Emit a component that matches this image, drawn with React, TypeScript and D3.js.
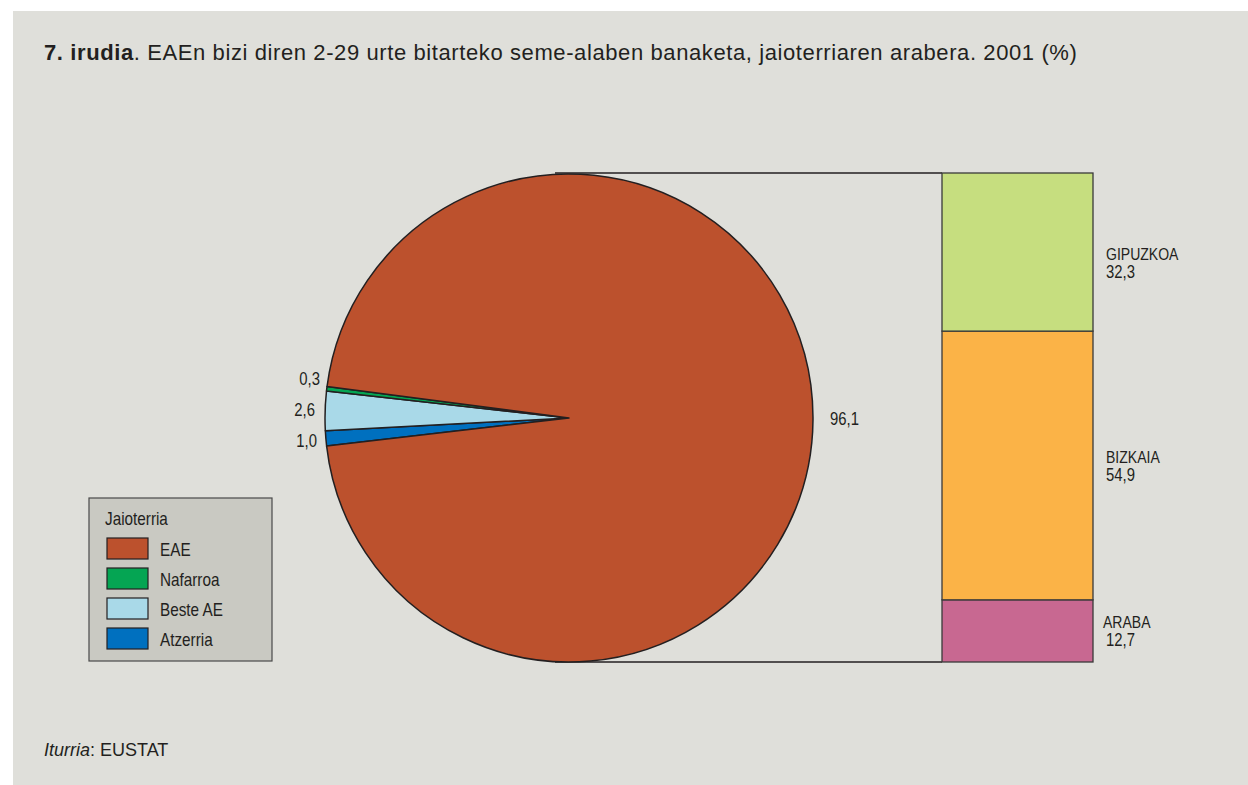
import React from "react";
import * as d3 from "d3";

const pieCategories = ["Atzerria", "Beste AE", "Nafarroa", "EAE"];
const pieValues = [1.0, 2.6, 0.3, 96.1];
const pieLabels = ["1,0", "2,6", "0,3", "96,1"];
const pieColors = ["#0070bf", "#a9d9e8", "#05a553", "#bc512d"];

const legendCategories = ["EAE", "Nafarroa", "Beste AE", "Atzerria"];
const legendColors = ["#bc512d", "#05a553", "#a9d9e8", "#0070bf"];

const barCategories = ["ARABA", "BIZKAIA", "GIPUZKOA"];
const barValues = [12.7, 54.9, 32.3];
const barLabels = ["12,7", "54,9", "32,3"];
const barColors = ["#c86891", "#fbb347", "#c6de7f"];

const FONT = "'Liberation Sans', Arial, sans-serif";

function NText({ x, y, size, sx = 0.85, anchor = "start", children }: any) {
  return (
    <text
      transform={`translate(${x},${y}) scale(${sx},1)`}
      textAnchor={anchor}
      fontFamily={FONT}
      fontSize={size}
      fill="#231f20"
    >
      {children}
    </text>
  );
}

export default function App() {
  const W = 1248, H = 785;
  const cx = 569, cy = 418, r = 244;
  const start = (263.4 / 180) * Math.PI;
  const pie = d3.pie<number>().sort(null).startAngle(start).endAngle(start + 2 * Math.PI);
  const arcs = pie(pieValues);
  const arcGen = d3.arc<d3.PieArcDatum<number>>().innerRadius(0).outerRadius(r);

  const barX = 942, barW = 151, barTop = 173, barBottom = 662;
  const total = d3.sum(barValues);
  const y = d3.scaleLinear().domain([0, total]).range([barBottom, barTop]);
  let acc = 0;
  const segs = barValues.map((v, i) => {
    const s = { y0: y(acc), y1: y(acc + v), i };
    acc += v;
    return s;
  });
  const labelShift = [-3, -2.5, 8];

  const labelPos = [
    { x: 317, y: 447 },
    { x: 315, y: 416 },
    { x: 320, y: 385 },
    { x: 830, y: 425 },
  ];

  return (
    <svg width={W} height={H} style={{ position: "absolute", left: 0, top: 0, background: "#fff" }}>
      <rect x={13} y={11} width={W - 13} height={H - 11} fill="#dfdfda" />
      <text x={44} y={60} fontFamily={FONT} fontSize={22} letterSpacing={0.6} fill="#231f20">
        <tspan fontWeight="bold">7. irudia</tspan>
        <tspan>. EAEn bizi diren 2-29 urte bitarteko seme-alaben banaketa, jaioterriaren arabera. 2001 (%)</tspan>
      </text>

      <line x1={555} y1={barTop} x2={barX} y2={barTop} stroke="#231f20" strokeWidth={1.3} />
      <line x1={555} y1={barBottom} x2={barX} y2={barBottom} stroke="#231f20" strokeWidth={1.3} />

      <g transform={`translate(${cx},${cy})`}>
        {arcs.map((a, i) => (
          <path key={pieCategories[i]} d={arcGen(a) || ""} fill={pieColors[i]} stroke="#231f20" strokeWidth={1.5} strokeLinejoin="round" />
        ))}
      </g>
      {pieLabels.map((l, i) => (
        <NText key={l} x={labelPos[i].x} y={labelPos[i].y} size={17.5} anchor={i < 3 ? "end" : "start"}>
          {l}
        </NText>
      ))}

      {segs.map((s) => (
        <rect key={barCategories[s.i]} x={barX} y={s.y1} width={barW} height={s.y0 - s.y1} fill={barColors[s.i]} stroke="#3a3a3a" strokeWidth={1.3} />
      ))}
      {segs.map((s) => {
        const my = (s.y0 + s.y1) / 2 + labelShift[s.i];
        const dx = s.i === 0 ? -3 : 0;
        return (
          <g key={"l" + s.i}>
            <NText x={1106 + dx} y={my} size={16.5}>{barCategories[s.i]}</NText>
            <NText x={1106} y={my + 18} size={17.5}>{barLabels[s.i]}</NText>
          </g>
        );
      })}

      <rect x={89} y={498} width={183} height={163} fill="#c9c9c2" stroke="#4a4a4a" strokeWidth={1.2} />
      <NText x={105} y={525} size={18}>Jaioterria</NText>
      {legendCategories.map((c, i) => (
        <g key={c}>
          <rect x={107} y={538 + i * 30} width={41} height={21} fill={legendColors[i]} stroke="#231f20" strokeWidth={1.2} />
          <NText x={160} y={556 + i * 30} size={18}>{c}</NText>
        </g>
      ))}

      <text x={44} y={756} fontFamily={FONT} fontSize={18} fill="#231f20">
        <tspan fontStyle="italic">Iturria</tspan>
        <tspan>: EUSTAT</tspan>
      </text>
    </svg>
  );
}
